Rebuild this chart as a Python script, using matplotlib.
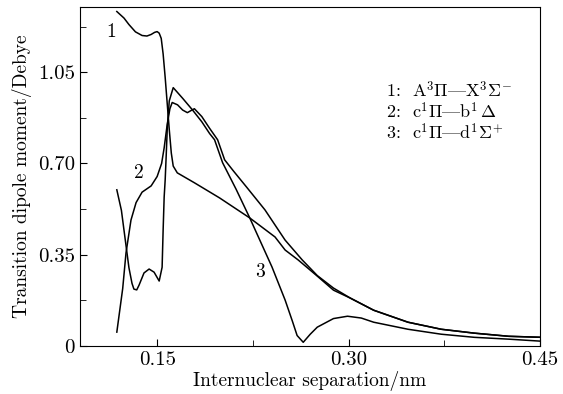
import matplotlib
matplotlib.use("Agg")
import matplotlib.pyplot as plt
from matplotlib.ticker import MultipleLocator

plt.rcParams['font.family'] = ['cmr10', 'DejaVu Serif']
plt.rcParams['mathtext.fontset'] = 'cm'
plt.rcParams['axes.formatter.use_mathtext'] = True

# curve 1: A3Pi - X3Sigma-
x1 = [0.1184, 0.1240, 0.1279, 0.1330, 0.1382, 0.1420, 0.1453, 0.1480, 0.1500, 0.1516,
      0.1532, 0.1547, 0.1563, 0.1579, 0.1595, 0.1611, 0.1626, 0.1658, 0.1792, 0.1989,
      0.2226, 0.2424, 0.2503, 0.2605, 0.2750, 0.2882, 0.3016, 0.3197, 0.3466, 0.3726,
      0.3987, 0.4255, 0.4516]
y1 = [1.283, 1.258, 1.233, 1.205, 1.191, 1.189, 1.195, 1.203, 1.206, 1.200,
      1.180, 1.120, 1.030, 0.930, 0.830, 0.740, 0.690, 0.664, 0.626, 0.568,
      0.491, 0.418, 0.368, 0.330, 0.270, 0.214, 0.183, 0.137, 0.091, 0.064,
      0.049, 0.037, 0.033]

# curve 2: c1Pi - b1Delta
x2 = [0.1184, 0.1230, 0.1256, 0.1295, 0.1335, 0.1382, 0.1453, 0.1500, 0.1535, 0.1555,
      0.1579, 0.1600, 0.1618, 0.1660, 0.1700, 0.1737, 0.1776, 0.1792, 0.1850, 0.1911,
      0.1974, 0.2029, 0.2100, 0.2200, 0.2345, 0.2503, 0.2637, 0.2755, 0.2882, 0.3016,
      0.3197, 0.3466, 0.3726, 0.3987, 0.4255, 0.4516]
y2 = [0.053, 0.220, 0.357, 0.483, 0.550, 0.590, 0.614, 0.650, 0.700, 0.760,
      0.850, 0.910, 0.934, 0.925, 0.905, 0.895, 0.906, 0.910, 0.880, 0.835,
      0.791, 0.714, 0.670, 0.610, 0.522, 0.406, 0.330, 0.270, 0.222, 0.183,
      0.137, 0.091, 0.064, 0.049, 0.037, 0.033]

# curve 3: c1Pi - d1Sigma+
x3 = [0.1184, 0.1220, 0.1240, 0.1279, 0.1303, 0.1318, 0.1340, 0.1358, 0.1397, 0.1437,
      0.1476, 0.1516, 0.1539, 0.1547, 0.1555, 0.1563, 0.1571, 0.1579, 0.1595, 0.1626,
      0.1700, 0.1776, 0.1850, 0.1911, 0.1950, 0.2013, 0.2120, 0.2226, 0.2400, 0.2503,
      0.2560, 0.2597, 0.2645, 0.2700, 0.2755, 0.2882, 0.2992, 0.3100, 0.3197, 0.3466,
      0.3726, 0.3987, 0.4255, 0.4516]
y3 = [0.599, 0.520, 0.445, 0.300, 0.240, 0.218, 0.215, 0.233, 0.280, 0.295,
      0.283, 0.249, 0.302, 0.445, 0.571, 0.637, 0.730, 0.830, 0.940, 0.991,
      0.950, 0.906, 0.860, 0.815, 0.791, 0.703, 0.600, 0.491, 0.303, 0.176,
      0.095, 0.040, 0.014, 0.045, 0.072, 0.105, 0.114, 0.107, 0.091, 0.064,
      0.045, 0.033, 0.026, 0.018]

legend_lines = [r'1:  A$^3\Pi$|X$^3\Sigma^{-}$',
                r'2:  c$^1\Pi$|b$^1\,\Delta$',
                r'3:  c$^1\Pi$|d$^1\Sigma^{+}$']

fig = plt.figure(figsize=(5.63, 3.94), dpi=100)
ax = fig.add_axes([0.142, 0.122, 0.817, 0.860])

ax.plot(x1, y1, color='black', lw=1.1)
ax.plot(x2, y2, color='black', lw=1.1)
ax.plot(x3, y3, color='black', lw=1.1)

ax.text(0.1137, 1.206, '1', fontsize=14, ha='center', va='center')
ax.text(0.1358, 0.664, '2', fontsize=14, ha='center', va='center')
ax.text(0.2305, 0.283, '3', fontsize=14, ha='center', va='center')

for i, s in enumerate(legend_lines):
    ax.text(0.329, 0.983 - i * 0.082, s, fontsize=13, ha='left', va='center')

ax.set_xlim(0.0895, 0.45)
ax.set_ylim(0, 1.30)
ax.set_xticks([0.15, 0.30, 0.45])
ax.set_xticklabels(['0.15', '0.30', '0.45'])
ax.set_yticks([0, 0.35, 0.70, 1.05])
ax.set_yticklabels(['0', '0.35', '0.70', '1.05'])
ax.xaxis.set_minor_locator(MultipleLocator(0.075))
ax.yaxis.set_minor_locator(MultipleLocator(0.175))
ax.tick_params(which='both', direction='in', top=False, right=False, labelsize=15)
ax.tick_params(which='major', length=5)
ax.tick_params(which='minor', length=4)

ax.set_xlabel('Internuclear separation/nm', fontsize=14, labelpad=2)
ax.set_ylabel('Transition dipole moment/Debye', fontsize=14, labelpad=4)

fig.savefig('out.png', dpi=100)
